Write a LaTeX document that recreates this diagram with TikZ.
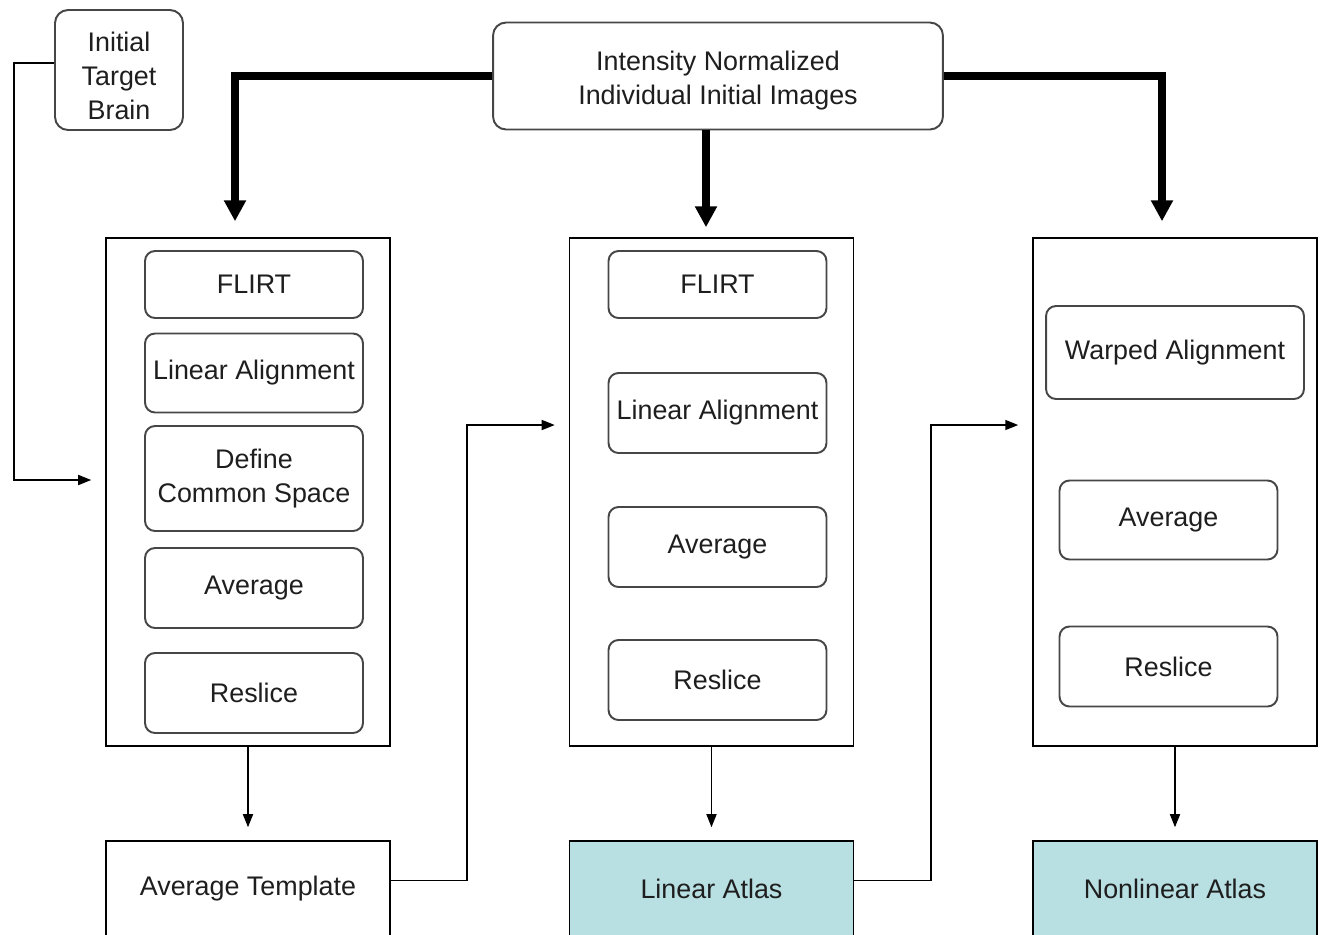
\documentclass[tikz,border=0pt]{standalone}
\usepackage{fontspec}
\setmainfont{Liberation Sans}
\usepackage{tikz}
\usetikzlibrary{arrows.meta}

\definecolor{atlasfill}{RGB}{184,223,226}
\definecolor{boxline}{RGB}{70,70,70}
\definecolor{txtcol}{RGB}{30,30,30}

\tikzset{
    startbox/.style={draw=boxline, line width=1.1pt, rounded corners=0.26cm, align=center, text=txtcol},
    panel/.style={draw=black, line width=0.9pt, minimum width=5.68cm, minimum height=10.16cm},
    stepbox/.style={draw=boxline, line width=1.1pt, rounded corners=0.2cm, align=center, text=txtcol, minimum width=4.36cm},
    resultbox/.style={draw=black, line width=0.9pt, minimum width=5.68cm, minimum height=1.9cm, text=txtcol},
    bigarrow/.style={line width=4pt, -{Triangle[length=0.42cm, width=0.42cm]}},
    thinarrow/.style={line width=0.9pt, -{Triangle[length=0.26cm, width=0.2cm]}}
}

\begin{document}
\begin{tikzpicture}[x=0.02cm, y=-0.02cm, font=\fontsize{15.3}{19.5}\selectfont]
    \useasboundingbox (0,0) rectangle (1326,934);
    \clip (0,0) rectangle (1326,934);

    % start boxes
    \node[startbox, minimum width=2.56cm, minimum height=2.4cm] (target) at (119,70) {\rule{0pt}{0.62cm}Initial\\Target\\Brain};
    \node[startbox, minimum width=9cm, minimum height=2.14cm] (source) at (718,76) {\rule{0pt}{0.58cm}Intensity Normalized\\Individual Initial Images};

    % three panels
    \node[panel] (lpanel) at (248,492) {};
    \node[panel] (mpanel) at (711.5,492) {};
    \node[panel] (rpanel) at (1175,492) {};

    % steps of left panel
    \node[stepbox, minimum height=1.34cm] (lflirt) at (254,284.5) {FLIRT};
    \node[stepbox, minimum height=1.58cm] (llinear) at (254,373) {Linear Alignment};
    \node[stepbox, minimum height=2.1cm] (ldefine) at (254,478.5) {Define\\Common Space};
    \node[stepbox, minimum height=1.6cm] (laverage) at (254,588) {Average};
    \node[stepbox, minimum height=1.6cm] (lreslice) at (254,693) {Reslice};

    % steps of middle panel
    \node[stepbox, minimum height=1.34cm] (mflirt) at (717.5,284.5) {FLIRT};
    \node[stepbox, minimum height=1.6cm] (mlinear) at (717.5,413) {Linear Alignment};
    \node[stepbox, minimum height=1.6cm] (maverage) at (717.5,547) {Average};
    \node[stepbox, minimum height=1.6cm] (mreslice) at (717.5,680) {Reslice};

    % steps of right panel
    \node[stepbox, minimum width=5.16cm, minimum height=1.86cm] (rwarped) at (1175,352.5) {Warped Alignment};
    \node[stepbox, minimum height=1.58cm] (raverage) at (1168.5,520) {Average};
    \node[stepbox, minimum height=1.6cm] (rreslice) at (1168.5,666.5) {Reslice};

    % results
    \node[resultbox] (avgtmpl) at (248,888.5) {Average Template};
    \node[resultbox, fill=atlasfill] (linatlas) at (711.5,888.5) {Linear Atlas};
    \node[resultbox, fill=atlasfill] (nonlinatlas) at (1175,888.5) {Nonlinear Atlas};

    % thick arrows from the images
    \draw[bigarrow, shorten >=0.32cm] (source.west) -| ([xshift=-0.26cm]lpanel.north);
    \draw[bigarrow, shorten >=0.2cm] ([xshift=-0.11cm]mpanel.north |- source.south) -- ([xshift=-0.11cm]mpanel.north);
    \draw[bigarrow, shorten >=0.32cm] (source.east) -| ([xshift=-0.26cm]rpanel.north);

    % thin connectors
    \draw[thinarrow, shorten >=0.28cm] ([yshift=0.14cm]target.west) -- ++(-0.8cm,0) |- ([yshift=0.24cm]lpanel.west);
    \draw[thinarrow, shorten >=0.26cm] (lpanel.south) -- (avgtmpl.north);
    \draw[thinarrow, shorten >=0.26cm] (mpanel.south) -- (linatlas.north);
    \draw[thinarrow, shorten >=0.26cm] (rpanel.south) -- (nonlinatlas.north);
    \draw[thinarrow, shorten >=0.28cm] ([yshift=0.16cm]avgtmpl.east) -- ++(1.52cm,0) |- ([yshift=1.34cm]mpanel.west);
    \draw[thinarrow, shorten >=0.28cm] ([yshift=0.16cm]linatlas.east) -- ++(1.54cm,0) |- ([yshift=1.34cm]rpanel.west);
\end{tikzpicture}
\end{document}
